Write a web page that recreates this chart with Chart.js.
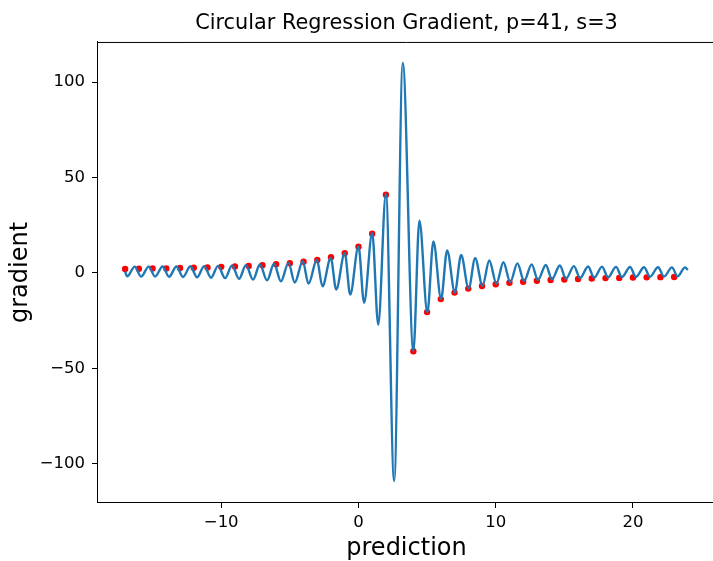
<!DOCTYPE html>
<html>
<head>
<meta charset="utf-8">
<script src="https://cdn.jsdelivr.net/npm/chart.js@4.4.0/dist/chart.umd.min.js"></script>
<style>
    html, body { margin: 0; padding: 0; overflow: hidden; background: #fff; }
</style>
</head>
<body>
<canvas id="gradientChart" width="720" height="561"></canvas>
<script>
// blue curve at its peaks and troughs
let predX = [-17.0, -16.85, -16.3, -15.84, -15.28, -14.82, -14.27, -13.8, -13.26, -12.78, -12.25,
    -11.76, -11.24, -10.74, -10.23, -9.72, -9.21, -8.7, -8.2, -7.68, -7.18, -6.66, -6.15,
    -5.65, -5.1, -4.64, -4.06, -3.64, -3.03, -2.62, -2.02, -1.62, -1.0, -0.6, 0.0, 0.41, 1.0,
    1.44, 2.0, 2.6, 3.23, 4.0, 4.44, 5.02, 5.46, 6.02, 6.46, 7.02, 7.48, 8.03, 8.5, 9.04, 9.53,
    10.05, 10.56, 11.06, 11.58, 12.07, 12.62, 13.08, 13.65, 14.1, 14.67, 15.12, 15.7, 16.15,
    16.73, 17.17, 17.75, 18.18, 18.77, 19.19, 19.79, 20.21, 20.81, 21.24, 21.83, 22.26, 22.84,
    23.25, 23.8, 24.0];
let gradY = [0.8, -1.8, 3.3, -1.9, 3.3, -1.9, 3.4, -2.0, 3.4, -2.1, 3.5,
    -2.3, 3.6, -2.5, 3.7, -2.7, 3.9, -3.1, 4.1, -3.5, 4.4, -3.9, 4.8,
    -4.4, 5.3, -5.0, 6.1, -5.6, 6.9, -7.0, 7.9, -8.7, 10.5, -11.3, 13.9, -15.6, 21.0,
    -27.0, 41.5, -109, 110, -40.9, 27.4, -20.6, 16.5, -13.6, 11.8, -10.2, 9.4, -8.2, 7.7, -6.7, 6.5,
    -5.6, 5.6, -4.8, 5.0, -4.2, 4.5, -3.7, 4.2, -3.3, 3.9, -3.0, 3.6, -2.7,
    3.4, -2.5, 3.3, -2.3, 3.2, -2.2, 3.1, -2.1, 3.0, -2.0, 3.0, -1.9, 2.9,
    -1.8, 2.9, 1.6];

// red dots
let dotX = [-17, -16, -15, -14, -13, -12, -11, -10, -9, -8, -7, -6, -5, -4, -3, -2, -1, 0, 1, 2,
    4, 5, 6, 7, 8, 9, 10, 11, 12, 13, 14, 15, 16, 17, 18, 19, 20, 21, 22, 23];
let dotY = [2.1, 2.2, 2.3, 2.4, 2.6, 2.7, 2.9, 3.2, 3.4, 3.7, 4.1, 4.6, 5.1, 5.9, 6.8, 8.2, 10.3, 13.7, 20.5, 41.0,
    -41.0, -20.5, -13.7, -10.3, -8.2, -6.8, -5.9, -5.1, -4.6, -4.1, -3.7, -3.4, -3.2, -2.9, -2.7, -2.6, -2.4, -2.3, -2.2, -2.1];

let xTicks = [-10, 0, 10, 20];
let yTicks = [-100, -50, 0, 50, 100];

Chart.defaults.font.family = "'DejaVu Sans', sans-serif";
Chart.defaults.color = '#000';

const minusSign = (v) => String(v).replace('-', '\u2212');

// matplotlib draws a full box, the axes only give left and bottom
const frame = {
    id: 'frame',
    afterDatasetsDraw(chart) {
        let { ctx, chartArea: a } = chart;
        ctx.save();
        ctx.strokeStyle = '#000';
        ctx.lineWidth = 1;
        ctx.beginPath();
        ctx.moveTo(a.left, a.top + 0.5);
        ctx.lineTo(a.right, a.top + 0.5);
        ctx.moveTo(a.right - 0.5, a.top);
        ctx.lineTo(a.right - 0.5, a.bottom);
        ctx.stroke();
        ctx.restore();
    }
};

let ctx = document.getElementById('gradientChart').getContext('2d');
let chart = new Chart(ctx, {
    type: 'line',
    data: {
        datasets: [{
            data: predX.map((x, i) => ({ x: x, y: gradY[i] })),
            borderColor: '#1f77b4',
            borderWidth: 2.4,
            pointRadius: 0,
            cubicInterpolationMode: 'monotone',
            fill: false,
            order: 0
        }, {
            type: 'scatter',
            data: dotX.map((x, i) => ({ x: x, y: dotY[i] })),
            backgroundColor: '#ff0000',
            borderWidth: 0,
            pointRadius: 3.2,
            showLine: false,
            order: 1
        }]
    },
    options: {
        responsive: false,
        animation: false,
        layout: { padding: { left: 0, right: 2, top: 0, bottom: 0 } },
        plugins: {
            legend: { display: false },
            tooltip: { enabled: false },
            title: {
                display: true,
                fullSize: false,
                text: 'Circular Regression Gradient, p=41, s=3',
                color: '#000',
                font: { size: 20.8, weight: 'normal' },
                padding: { top: 11.5, bottom: 5.5 }
            }
        },
        scales: {
            x: {
                type: 'linear',
                min: -19.05,
                max: 26.05,
                afterBuildTicks: (scale) => { scale.ticks = xTicks.map(v => ({ value: v })); },
                afterFit: (scale) => { scale.height = 58; },
                grid: { drawOnChartArea: false, drawTicks: true, tickLength: 5, color: '#000' },
                border: { color: '#000', width: 1 },
                ticks: { font: { size: 16.5 }, padding: 5, maxRotation: 0, callback: minusSign },
                title: { display: true, text: 'prediction', font: { size: 24, lineHeight: 1.0 }, padding: { top: 0, bottom: 0 } }
            },
            y: {
                min: -120.5,
                max: 121,
                afterBuildTicks: (scale) => { scale.ticks = yTicks.map(v => ({ value: v })); },
                afterFit: (scale) => { scale.width = 97; },
                grid: { drawOnChartArea: false, drawTicks: true, tickLength: 5, color: '#000' },
                border: { color: '#000', width: 1 },
                ticks: { font: { size: 16.5 }, padding: 7, callback: minusSign },
                title: { display: true, text: 'gradient', font: { size: 24 }, padding: { top: 6, bottom: 0 } }
            }
        }
    },
    plugins: [frame]
});
</script>
</body>
</html>
